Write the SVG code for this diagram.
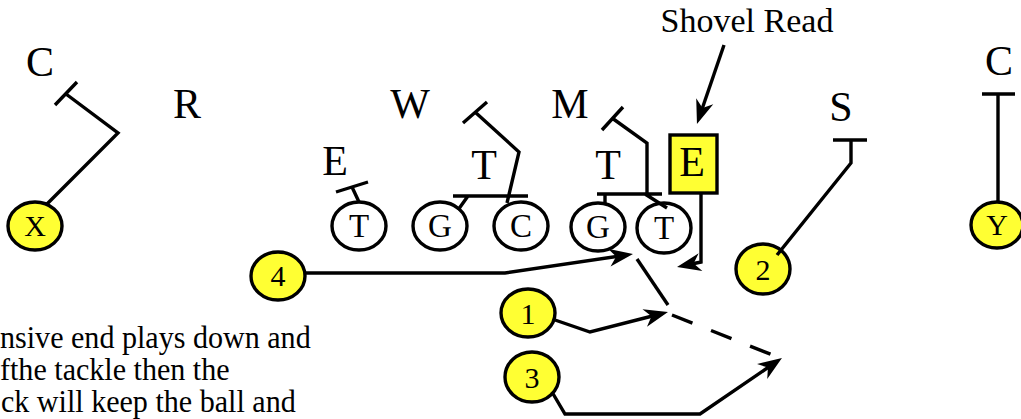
<svg xmlns="http://www.w3.org/2000/svg" width="1021" height="419" viewBox="0 0 1021 419">
<style>
text{font-family:"Liberation Serif","Times New Roman",serif;fill:#000;text-anchor:middle}
.lbl{font-size:42px}
.ol{font-size:33px}
.yl{font-size:30px}
.o{fill:#fff;stroke:#000;stroke-width:3.4}
.y{fill:#ffff33;stroke:#000;stroke-width:3.4}
.ln{fill:none;stroke:#000;stroke-width:3.4;stroke-linejoin:miter}
.ar{marker-end:url(#ah)}
.dash{stroke-dasharray:22 20}
.para{font-size:32px;text-anchor:start}
</style>
<defs>
<marker id="ah" markerUnits="userSpaceOnUse" viewBox="-16 -11 28 22" refX="0" refY="0" markerWidth="28" markerHeight="22" orient="auto">
<path d="M10,0 L-14,-9 L-7,0 L-14,9 Z" fill="#000"/>
</marker>
</defs>
<rect width="1021" height="419" fill="#fff"/>

<g id="title"><text x="747" y="32" style="font-size:34px">Shovel Read</text></g>

<g id="defense">
<g id="C-left"><text class="lbl" x="40" y="76">C</text></g>
<g id="R"><text class="lbl" x="187" y="118">R</text></g>
<g id="W"><text class="lbl" x="410" y="118">W</text></g>
<g id="M"><text class="lbl" x="570" y="118">M</text></g>
<g id="E-left"><text class="lbl" x="335" y="175">E</text></g>
<g id="T-left"><text class="lbl" x="484" y="179">T</text></g>
<g id="T-right"><text class="lbl" x="608" y="179">T</text></g>
<g id="E-read"><rect class="y" x="670" y="135" width="47" height="58"/><text class="lbl" x="692" y="176">E</text></g>
<g id="S"><text class="lbl" x="841" y="121">S</text></g>
<g id="C-right"><text class="lbl" x="999" y="75">C</text></g>
</g>

<g id="offense">
<g id="X"><ellipse class="y" cx="35" cy="226" rx="27" ry="24"/><text class="yl" x="35" y="236">X</text></g>
<g id="LT"><ellipse class="o" cx="359" cy="226" rx="27" ry="24"/><text class="ol" x="359" y="237">T</text></g>
<g id="LG"><ellipse class="o" cx="440" cy="226" rx="27" ry="24"/><text class="ol" x="440" y="237">G</text></g>
<g id="Cn"><ellipse class="o" cx="521" cy="226" rx="27" ry="24"/><text class="ol" x="521" y="237">C</text></g>
<g id="RG"><ellipse class="o" cx="598" cy="227" rx="27" ry="24"/><text class="ol" x="598" y="238">G</text></g>
<g id="RT"><ellipse class="o" cx="664" cy="228" rx="27" ry="25"/><text class="ol" x="664" y="239">T</text></g>
<g id="Y"><ellipse class="y" cx="997" cy="225" rx="26" ry="23"/><text class="yl" x="997" y="235">Y</text></g>
<g id="B2"><ellipse class="y" cx="763" cy="269" rx="27" ry="25"/><text class="yl" x="763" y="280">2</text></g>
<g id="B4"><ellipse class="y" cx="278" cy="276" rx="27" ry="24"/><text class="yl" x="278" y="286">4</text></g>
<g id="B1"><ellipse class="y" cx="528" cy="313" rx="27" ry="24"/><text class="yl" x="528" y="324">1</text></g>
<g id="B3"><ellipse class="y" cx="532" cy="377" rx="27" ry="25"/><text class="yl" x="532" y="388">3</text></g>
</g>

<g id="connectors">
<path class="ln ar" d="M724,45 L700.2,114.5"/>
<path class="ln" d="M47,204 L118,133 L66,94 M55,105 L77,82"/>
<path class="ln" d="M336,192 L368,182 M352,187 L359,202"/>
<path class="ln" d="M453,196 L528,196 M458,210 L468,196 M463,123 L487,102 M475,112 L519,152 L507,203"/>
<path class="ln" d="M597,194 L662,194 M605,194 L605,204 M602,130 L623,107 M612,118 L647,143 L647,194 M645,194 L667,208"/>
<path class="ln ar" d="M701,193 L701,262 L686.8,265"/>
<path class="ln" d="M777,255 L851,163 L851,140 M833,140 L867,140"/>
<path class="ln" d="M998,203 L998,95 M982,94 L1015,94"/>
<path class="ln ar" d="M305,273 L505,273 L623.1,255.5"/>
<path class="ln" d="M637,259 L668,305"/>
<path class="ln dash" d="M672,315 L775,356"/>
<path class="ln ar" d="M555,320 L590,332 L658.3,314.5"/>
<path class="ln ar" d="M552,392 L565,414 L700,414 L773.7,363.6"/>
</g>

<g id="note" transform="scale(0.94,1)">
<text class="para" x="0" y="348">nsive end plays down and</text>
<text class="para" x="0" y="380">fthe tackle then the</text>
<text class="para" x="1" y="412">ck will keep the ball and</text>
</g>
</svg>
